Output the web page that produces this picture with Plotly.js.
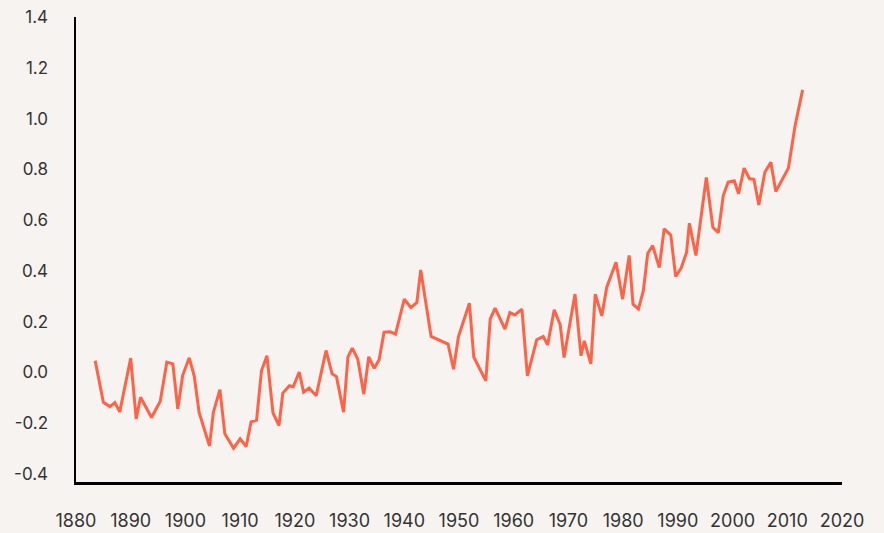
<!DOCTYPE html>
<html>
<head>
<meta charset="utf-8">
<script src="https://cdn.plot.ly/plotly-3.0.1.min.js"></script>
<style>
  html, body { margin: 0; padding: 0; background: #f7f3f0; }
  #chart { width: 884px; height: 533px; }
</style>
</head>
<body>
<div id="chart"></div>
<script>
const years = [
  1883.5, 1885.0, 1886.2, 1887.1, 1888.0, 1890.0, 1891.0, 1891.8, 1893.8, 1895.4,
  1896.6, 1897.7, 1898.6, 1899.5, 1900.7, 1901.6, 1902.5, 1904.4, 1905.1, 1906.3,
  1907.2, 1908.8, 1910.0, 1911.1, 1912.0, 1913.0, 1913.9, 1914.9, 1916.0, 1917.1,
  1917.8, 1919.0, 1919.7, 1920.8, 1921.6, 1922.6, 1923.9, 1925.7, 1926.8, 1927.6,
  1928.9, 1929.7, 1930.5, 1931.5, 1932.6, 1933.5, 1934.5, 1935.4, 1936.3, 1937.4,
  1938.4, 1940.0, 1941.2, 1942.3, 1943.0, 1944.9, 1948.0, 1949.0, 1949.9, 1951.9,
  1952.7, 1954.9, 1955.7, 1956.6, 1958.4, 1959.3, 1960.2, 1961.5, 1962.5, 1964.2,
  1965.4, 1966.2, 1967.4, 1968.5, 1969.2, 1971.2, 1972.3, 1972.9, 1974.1, 1974.9,
  1976.1, 1977.0, 1978.7, 1979.9, 1981.1, 1981.8, 1982.8, 1983.7, 1984.5, 1985.4,
  1986.6, 1987.5, 1988.7, 1989.6, 1990.6, 1991.6, 1992.1, 1993.3, 1995.2, 1996.4,
  1997.4, 1998.3, 1999.2, 2000.3, 2001.1, 2002.1, 2003.1, 2003.9, 2004.8, 2005.9,
  2007.0, 2007.9, 2010.2, 2011.4, 2012.8
];
const anomalies = [
  0.047, -0.117, -0.134, -0.118, -0.155, 0.057, -0.182, -0.097, -0.177, -0.113,
  0.041, 0.034, -0.143, -0.011, 0.058, -0.013, -0.157, -0.289, -0.157, -0.067,
  -0.241, -0.298, -0.261, -0.291, -0.194, -0.187, 0.007, 0.066, -0.159, -0.209,
  -0.081, -0.052, -0.056, 0.002, -0.077, -0.061, -0.091, 0.087, -0.005, -0.016,
  -0.156, 0.062, 0.096, 0.052, -0.085, 0.062, 0.017, 0.050, 0.159, 0.161,
  0.151, 0.289, 0.256, 0.276, 0.404, 0.142, 0.112, 0.013, 0.142, 0.273,
  0.061, -0.033, 0.210, 0.254, 0.171, 0.236, 0.227, 0.250, -0.013, 0.129,
  0.142, 0.109, 0.247, 0.188, 0.059, 0.309, 0.066, 0.125, 0.034, 0.309,
  0.223, 0.336, 0.434, 0.289, 0.461, 0.269, 0.250, 0.323, 0.470, 0.500,
  0.413, 0.566, 0.542, 0.378, 0.411, 0.474, 0.588, 0.461, 0.768, 0.572,
  0.551, 0.697, 0.750, 0.755, 0.704, 0.805, 0.763, 0.761, 0.660, 0.789,
  0.828, 0.713, 0.805, 0.969, 1.113
];
const xTickVals = [1880, 1890, 1900, 1910, 1920, 1930, 1940, 1950, 1960, 1970, 1980, 1990, 2000, 2010, 2020];
const xTickText = ["1880", "1890", "1900", "1910", "1920", "1930", "1940", "1950", "1960", "1970", "1980", "1990", "2000", "2010", "2020"];
const yTickVals = [-0.4, -0.2, 0.0, 0.2, 0.4, 0.6, 0.8, 1.0, 1.2, 1.4];
const yTickText = ["-0.4", "-0.2", "0.0", "0.2", "0.4", "0.6", "0.8", "1.0", "1.2", "1.4"];

const bg = '#f7f3f0';
const trace = {
  x: years,
  y: anomalies,
  type: 'scatter',
  mode: 'lines',
  line: { color: '#ff6347', width: 3 },
  hoverinfo: 'x+y'
};
const layout = {
  width: 884,
  height: 533,
  paper_bgcolor: bg,
  plot_bgcolor: bg,
  showlegend: false,
  margin: { l: 76, r: 42, t: 17, b: 51, pad: 0 },
  font: { family: 'Inter, "DejaVu Sans", sans-serif', color: '#333333' },
  xaxis: {
    range: [1880, 2020],
    tickmode: 'array',
    tickvals: xTickVals,
    ticktext: xTickText,
    showgrid: false,
    zeroline: false,
    showline: true,
    linecolor: '#000000',
    linewidth: 2.5,
    ticks: '',
    ticklabelstandoff: 21,
    tickfont: { size: 18, color: '#333333' }
  },
  yaxis: {
    range: [-0.431, 1.4],
    tickmode: 'array',
    tickvals: yTickVals,
    ticktext: yTickText,
    showgrid: false,
    zeroline: false,
    showline: true,
    linecolor: '#000000',
    linewidth: 2.5,
    ticks: '',
    ticklabelstandoff: 22,
    tickfont: { size: 17, color: '#333333' }
  }
};
Plotly.newPlot('chart', [trace], layout, { displayModeBar: false, staticPlot: true });
</script>
</body>
</html>
